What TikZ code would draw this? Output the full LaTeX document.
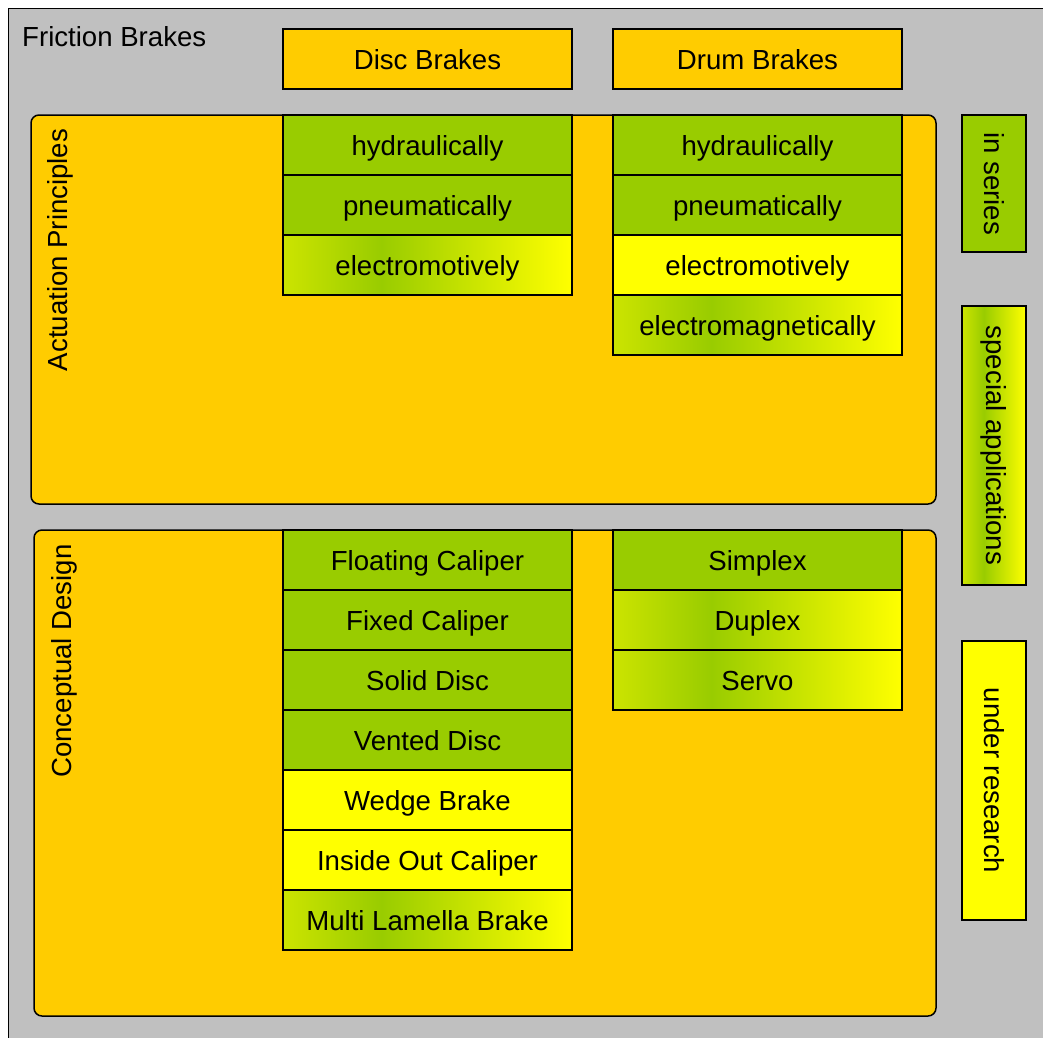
\documentclass[tikz,border=0pt]{standalone}
\usepackage{fontspec}
\usepackage{graphicx}
\setmainfont{Liberation Sans}
\definecolor{panelgray}{HTML}{C0C0C0}
\definecolor{amber}{HTML}{FFCC00}
\definecolor{leafgreen}{HTML}{99CC00}
\definecolor{lemon}{HTML}{FFFF00}
\definecolor{fadeleft}{HTML}{CCE400}
% green-to-yellow fade, stretched over the box between 25bp and 75bp
\pgfdeclarehorizontalshading{greenfade}{100bp}{color(0bp)=(fadeleft); color(25bp)=(fadeleft); color(42bp)=(leafgreen); color(75bp)=(lemon); color(100bp)=(lemon)}

\begin{document}
\begin{tikzpicture}[x=1pt,y=-1pt,
  lbl/.style={font=\fontsize{27.6}{33}\selectfont, text=black},
  cell/.style={lbl, draw=black, line width=1.5pt, minimum width=289pt, minimum height=60pt,
    inner sep=0pt, outer sep=0pt, text height=21.5pt, text depth=0pt, anchor=north west},
  fade/.style={shade, shading=greenfade},
  group/.style={draw=black, line width=1.5pt, fill=amber, rounded corners=8pt,
    inner sep=0pt, outer sep=0pt, anchor=north west},
  legendbox/.style={lbl, draw=black, line width=1.5pt, minimum width=64pt,
    inner sep=0pt, outer sep=0pt}
]
\useasboundingbox (0,0) rectangle (1043,1037);
\clip (0,0) rectangle (1043,1037);

% outer container
\node[draw=black, line width=1.5pt, fill=panelgray, inner sep=0pt, outer sep=0pt,
  minimum width=1060pt, minimum height=1060pt, anchor=north west] (frame) at (8.5,8.5) {};
\node[lbl, anchor=base west, inner sep=0pt] (title) at (22,46) {Friction Brakes};

% column headers
\node[cell, fill=amber] (disc) at (283,29) {Disc Brakes};
\node[cell, fill=amber] (drum) at (613,29) {Drum Brakes};

% category panels
\node[group, minimum width=905pt, minimum height=389pt] (actuation) at (31,115) {};
\node[group, minimum width=902pt, minimum height=486pt] (design) at (34,530) {};
\node[lbl, rotate=90] (actlabel) at (60,250) {Actuation Principles};
\node[lbl, rotate=90] (deslabel) at (64,661) {Conceptual Design};

% actuation principles: disc brakes
\node[cell, fill=leafgreen] (dhyd) at (283,115) {hydraulically};
\node[cell, fill=leafgreen] (dpneu) at (dhyd.south west) {pneumatically};
\node[cell, fade] (delmo) at (dpneu.south west) {electromotively};

% actuation principles: drum brakes
\node[cell, fill=leafgreen] (rhyd) at (613,115) {hydraulically};
\node[cell, fill=leafgreen] (rpneu) at (rhyd.south west) {pneumatically};
\node[cell, fill=lemon] (relmo) at (rpneu.south west) {electromotively};
\node[cell, fade] (relmag) at (relmo.south west) {electromagnetically};

% conceptual design: disc brakes
\node[cell, fill=leafgreen] (float) at (283,530) {Floating Caliper};
\node[cell, fill=leafgreen] (fixed) at (float.south west) {Fixed Caliper};
\node[cell, fill=leafgreen] (solid) at (fixed.south west) {Solid Disc};
\node[cell, fill=leafgreen] (vented) at (solid.south west) {Vented Disc};
\node[cell, fill=lemon] (wedge) at (vented.south west) {Wedge Brake};
\node[cell, fill=lemon] (insideout) at (wedge.south west) {Inside Out Caliper};
\node[cell, fade] (lamella) at (insideout.south west) {Multi Lamella Brake};

% conceptual design: drum brakes
\node[cell, fill=leafgreen] (simplex) at (613,530) {Simplex};
\node[cell, fade] (duplex) at (simplex.south west) {Duplex};
\node[cell, fade] (servo) at (duplex.south west) {Servo};

% legend
\node[legendbox, fill=leafgreen, minimum height=137pt] (inseries) at (994,183.5) {\rotatebox{-90}{in series}};
\node[legendbox, fade, minimum height=279pt] (special) at (994,445.5) {\rotatebox{-90}{special applications}};
\node[legendbox, fill=lemon, minimum height=279pt] (research) at (994,780.5) {\rotatebox{-90}{under research}};
\end{tikzpicture}
\end{document}
